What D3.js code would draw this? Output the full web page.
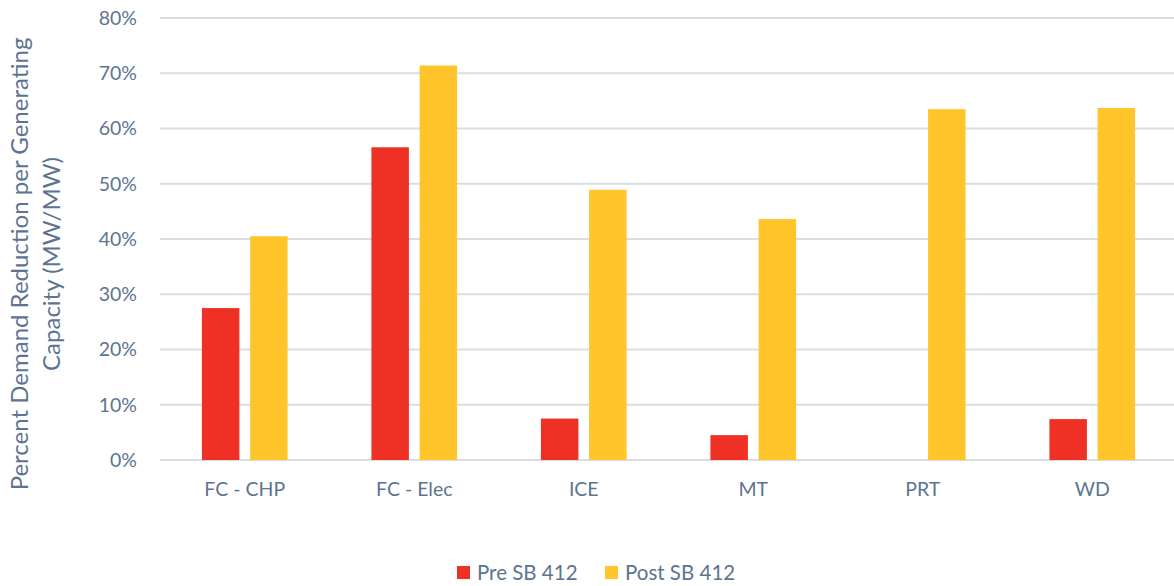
<!DOCTYPE html>
<html>
<head>
<meta charset="utf-8">
<script src="https://cdn.jsdelivr.net/npm/d3@7"></script>
<style>
  html, body { margin: 0; padding: 0; background: #fff; }
  svg { display: block; font-family: Lato, "Open Sans", sans-serif; }
</style>
</head>
<body>
<svg id="chart" width="1174" height="586"></svg>
<script>
const categories = ["FC - CHP", "FC - Elec", "ICE", "MT", "PRT", "WD"];
const seriesNames = ["Pre SB 412", "Post SB 412"];
const preValues = [0.275, 0.566, 0.075, 0.045, 0.0, 0.074];
const postValues = [0.405, 0.714, 0.489, 0.436, 0.635, 0.637];
const yTicks = [0, 0.1, 0.2, 0.3, 0.4, 0.5, 0.6, 0.7, 0.8];
const seriesColors = ["#EE3124", "#FFC52B"];
const textColor = "#5d7491";

const svg = d3.select("#chart");
const plotLeft = 160, plotRight = 1177, plotTop = 18, plotBottom = 460;

const x0 = d3.scaleBand().domain(categories).range([plotLeft, plotRight]).paddingInner(0).paddingOuter(0);
const x1 = d3.scaleBand().domain(seriesNames).range([0, x0.bandwidth()]).paddingInner(0.222).paddingOuter(0.87);
const y = d3.scaleLinear().domain([0, 0.8]).range([plotBottom, plotTop]);

// gridlines
svg.append("g")
  .selectAll("line").data(yTicks).join("line")
  .attr("x1", plotLeft).attr("x2", plotRight)
  .attr("y1", d => y(d)).attr("y2", d => y(d))
  .attr("stroke", "#d9dde5").attr("stroke-width", 2);

// y axis labels
const yAxis = d3.axisLeft(y).tickValues(yTicks).tickFormat(d3.format(".0%")).tickSize(0).tickPadding(0);
const gy = svg.append("g").attr("transform", `translate(${plotLeft - 23},0)`).call(yAxis);
gy.select(".domain").remove();
gy.selectAll("text").attr("fill", textColor).style("font-size", "19.5px").style("font-family", "Lato, sans-serif");

// x axis labels
const xAxis = d3.axisBottom(x0).tickSize(0).tickPadding(0);
const gx = svg.append("g").attr("transform", `translate(0,${plotBottom + 22})`).call(xAxis);
gx.select(".domain").remove();
gx.selectAll("text").attr("fill", textColor).style("font-size", "19.5px").style("font-family", "Lato, sans-serif");

// bars
const data = categories.map((c, i) => ({ cat: c, vals: [preValues[i], postValues[i]] }));
const groups = svg.append("g").selectAll("g").data(data).join("g")
  .attr("transform", d => `translate(${x0(d.cat)},0)`);
groups.selectAll("rect").data(d => d.vals.map((v, j) => ({ name: seriesNames[j], v, j })))
  .join("rect")
  .attr("x", d => x1(d.name))
  .attr("width", x1.bandwidth())
  .attr("y", d => y(d.v))
  .attr("height", d => y(0) - y(d.v))
  .attr("fill", d => seriesColors[d.j]);

// y title
const yt = svg.append("text")
  .attr("transform", "translate(28,264) rotate(-90)")
  .attr("text-anchor", "middle")
  .attr("fill", textColor)
  .style("font-size", "24px");
yt.append("tspan").attr("x", 0).attr("dy", 0).text("Percent Demand Reduction per Generating");
yt.append("tspan").attr("x", 0).attr("dy", 32).text("Capacity (MW/MW)");

// legend
const legendX = [457, 605];
const lg = svg.append("g").selectAll("g").data(seriesNames).join("g")
  .attr("transform", (d, i) => `translate(${legendX[i]},566)`);
lg.append("rect").attr("width", 13).attr("height", 13).attr("fill", (d, i) => seriesColors[i]);
lg.append("text").attr("x", 20).attr("y", 14).attr("fill", textColor)
  .style("font-size", "20.5px").text(d => d);
</script>
</body>
</html>
